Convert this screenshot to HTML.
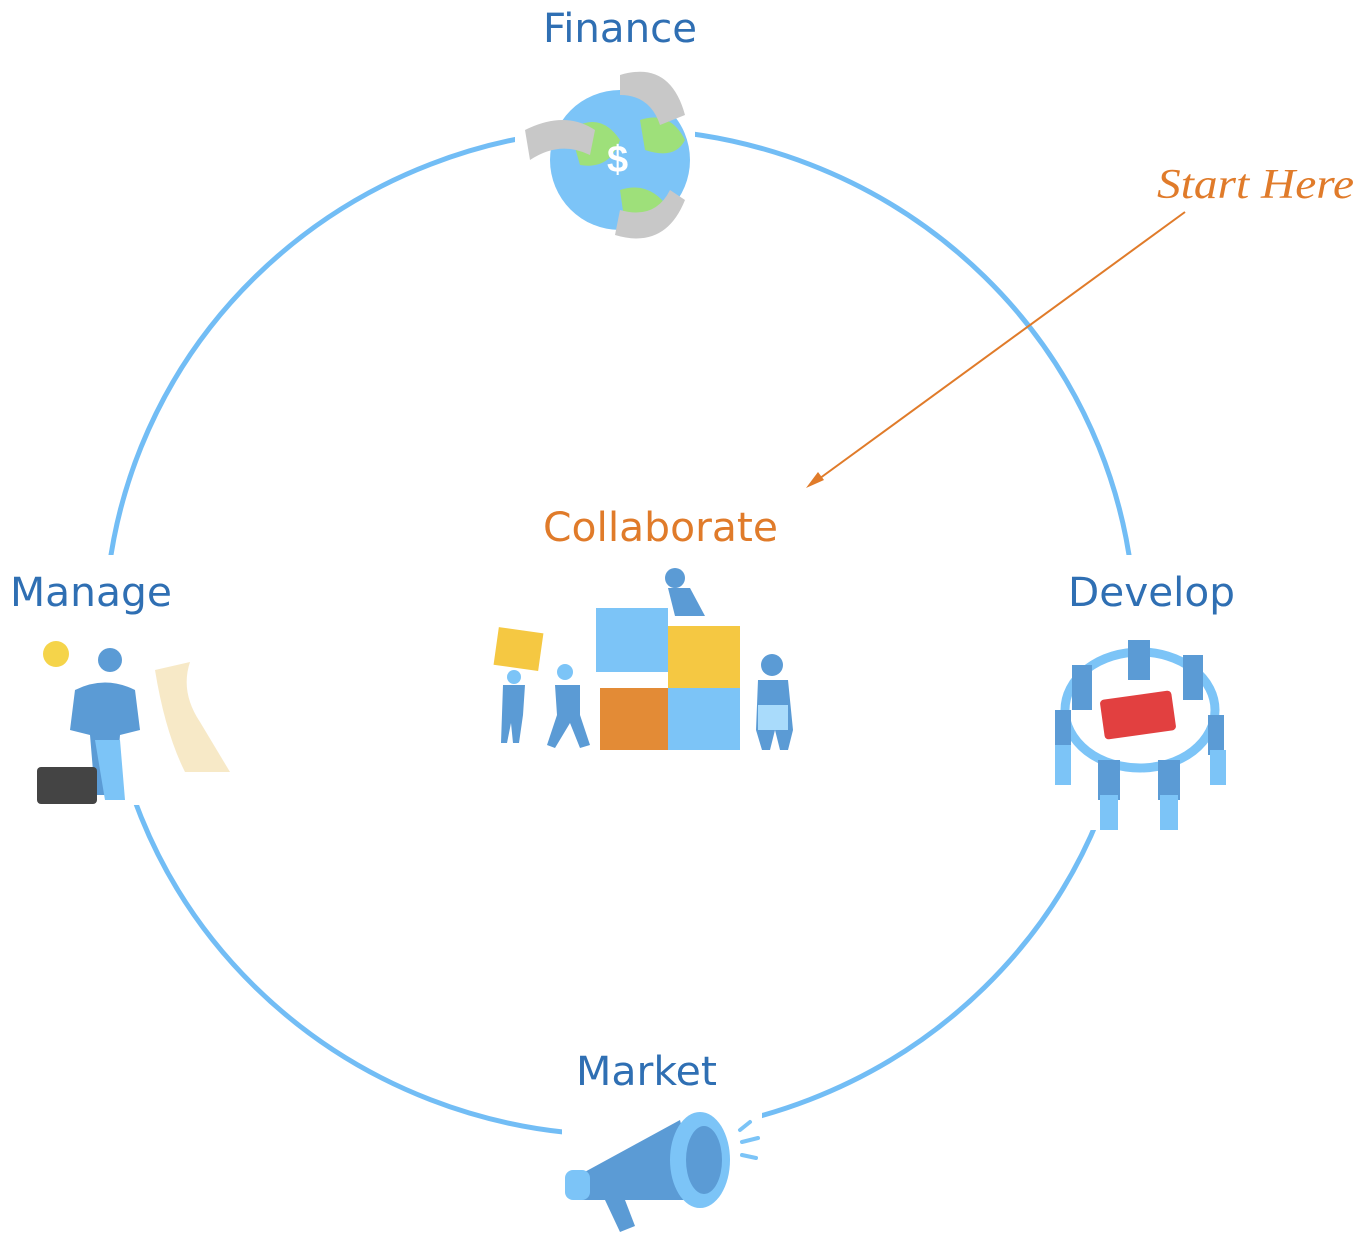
<!DOCTYPE html>
<html><head><meta charset="utf-8"><style>
html,body{margin:0;padding:0;background:#fff;}
svg{display:block;}
.lbl{font-family:"DejaVu Sans","Liberation Sans",sans-serif;font-size:40px;fill:#2f6fb3;}
</style></head><body>
<svg width="1364" height="1244" viewBox="0 0 1364 1244" xmlns="http://www.w3.org/2000/svg">
<ellipse cx="620" cy="632" rx="515" ry="503" fill="none" stroke="#72bdf5" stroke-width="5"/>
<rect x="515" y="100" width="180" height="60" fill="#fff"/>
<rect x="60" y="555" width="120" height="250" fill="#fff"/>
<rect x="1050" y="555" width="200" height="275" fill="#fff"/>
<rect x="562" y="1080" width="200" height="120" fill="#fff"/>

<text class="lbl" x="543" y="42" textLength="154" lengthAdjust="spacingAndGlyphs">Finance</text>
<text class="lbl" x="10" y="606" textLength="162" lengthAdjust="spacingAndGlyphs">Manage</text>
<text class="lbl" x="1068" y="606" textLength="167" lengthAdjust="spacingAndGlyphs">Develop</text>
<text class="lbl" x="576" y="1085" textLength="141" lengthAdjust="spacingAndGlyphs">Market</text>
<text class="lbl" x="543" y="541" textLength="235" lengthAdjust="spacingAndGlyphs" style="fill:#e07b2a">Collaborate</text>
<text x="1157" y="198" font-family="Liberation Serif,serif" font-style="italic" font-size="42" fill="#e07b2a" textLength="197" lengthAdjust="spacingAndGlyphs">Start Here</text>
<line x1="1185" y1="212" x2="812" y2="484" stroke="#e07b2a" stroke-width="2"/>
<polygon points="806,488 818,472 824,480" fill="#e07b2a"/>

<circle cx="620" cy="160" r="70" fill="#7cc4f7"/>
<path d="M570 130 q30 -20 50 10 q-10 30 -40 25 z M620 190 q30 -10 50 20 q-20 20 -45 15 z M640 120 q30 -10 45 20 q-10 20 -40 10z" fill="#9ee07a"/>
<path d="M525 130 q40 -20 70 0 l-5 25 q-30 -15 -60 5z" fill="#c8c8c8"/>
<path d="M620 75 q50 -15 65 40 l-25 10 q-10 -30 -40 -30z" fill="#c8c8c8"/>
<path d="M685 200 q-20 50 -70 35 l5 -25 q35 10 50 -20z" fill="#c8c8c8"/>
<text x="607" y="172" font-family="Liberation Sans,sans-serif" font-size="38" font-weight="bold" fill="#fff">$</text>

<circle cx="56" cy="654" r="13" fill="#f5d44a"/>
<circle cx="110" cy="660" r="12" fill="#5b9bd5"/>
<path d="M75 690 q30 -15 60 0 l5 40 l-20 5 l-5 60 l-20 0 l-5 -60 l-20 -5 z" fill="#5b9bd5"/>
<path d="M95 740 l10 60 l20 0 l-5 -60z" fill="#7cc4f7"/>
<path d="M155 670 l35 -8 q-10 30 10 60 q15 25 30 50 l-45 0 q-20 -40 -30 -102z" fill="#f7e9c7"/>
<rect x="37" y="767" width="60" height="37" rx="4" fill="#444"/>

<rect x="596" y="608" width="72" height="64" fill="#7cc4f7"/>
<rect x="668" y="626" width="72" height="64" fill="#f5c842"/>
<rect x="600" y="688" width="68" height="62" fill="#e38b36"/>
<rect x="668" y="688" width="72" height="62" fill="#7cc4f7"/>
<rect x="496" y="630" width="45" height="38" fill="#f5c842" transform="rotate(8 518 649)"/>
<circle cx="514" cy="677" r="7" fill="#7cc4f7"/>
<path d="M503 685 l22 0 l-2 30 l-4 28 l-6 0 l-2 -20 l-4 20 l-6 0 z" fill="#5b9bd5"/>
<circle cx="565" cy="672" r="8" fill="#7cc4f7"/>
<path d="M555 685 l25 0 l0 30 l10 30 l-10 3 l-10 -25 l-15 25 l-8 -3 l10 -30z" fill="#5b9bd5"/>
<circle cx="675" cy="578" r="10" fill="#5b9bd5"/>
<path d="M668 588 l22 0 l15 28 l-30 0z" fill="#5b9bd5"/>
<circle cx="772" cy="665" r="11" fill="#5b9bd5"/>
<path d="M758 680 l30 0 l5 50 l-5 20 l-8 0 l-5 -20 l-5 20 l-8 0 l-6 -20z" fill="#5b9bd5"/>
<rect x="758" y="705" width="30" height="25" fill="#a9dbfb"/>

<ellipse cx="1140" cy="710" rx="75" ry="58" fill="none" stroke="#7cc4f7" stroke-width="9"/>
<g fill="#5b9bd5">
<rect x="1128" y="640" width="22" height="40"/><rect x="1183" y="655" width="20" height="45"/>
<rect x="1072" y="665" width="20" height="45"/><rect x="1055" y="710" width="16" height="40"/>
<rect x="1208" y="715" width="16" height="40"/><rect x="1098" y="760" width="22" height="40"/>
<rect x="1158" y="760" width="22" height="40"/>
</g>
<g fill="#7cc4f7">
<rect x="1100" y="795" width="18" height="35"/><rect x="1160" y="795" width="18" height="35"/>
<rect x="1055" y="745" width="16" height="40"/><rect x="1210" y="750" width="16" height="35"/>
</g>
<rect x="1102" y="695" width="72" height="40" rx="4" fill="#e24040" transform="rotate(-8 1138 715)"/>

<path d="M570 1180 l110 -60 l20 80 l-120 0z" fill="#5b9bd5"/>
<ellipse cx="700" cy="1160" rx="30" ry="48" fill="#7cc4f7"/>
<ellipse cx="704" cy="1160" rx="18" ry="34" fill="#5b9bd5"/>
<rect x="565" y="1170" width="25" height="30" rx="8" fill="#7cc4f7"/>
<path d="M605 1200 l15 32 l15 -6 l-10 -26z" fill="#5b9bd5"/>
<g stroke="#7cc4f7" stroke-width="4" stroke-linecap="round">
<line x1="740" y1="1130" x2="750" y2="1122"/><line x1="742" y1="1142" x2="758" y2="1138"/><line x1="742" y1="1155" x2="756" y2="1158"/>
</g>
</svg>
</body></html>
